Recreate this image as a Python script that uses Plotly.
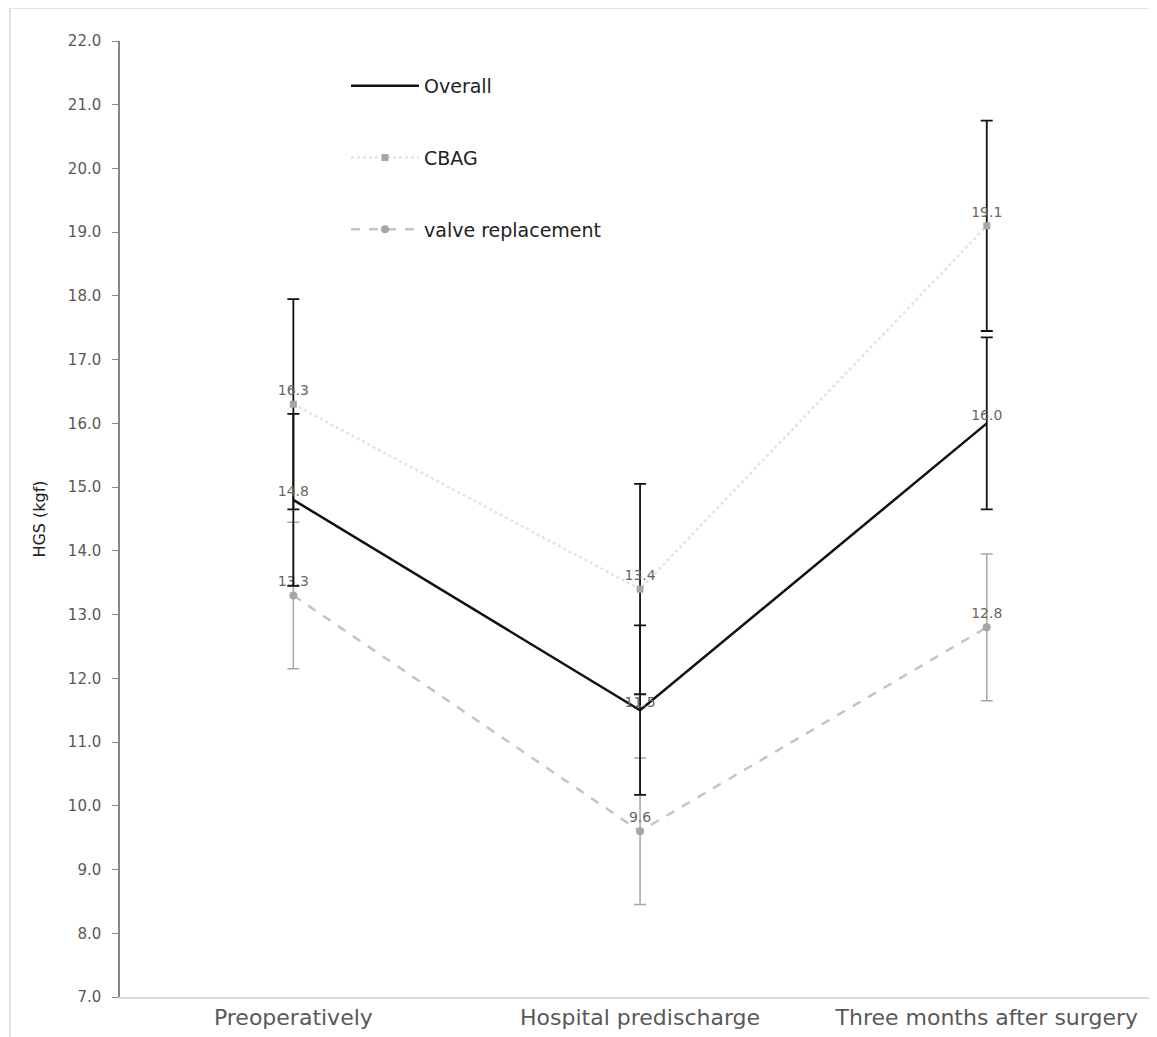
import plotly.graph_objects as go

categories = ["Preoperatively", "Hospital predischarge", "Three months after surgery"]
overall = [14.8, 11.5, 16.0]
overall_err = [1.35, 1.33, 1.35]
cbag = [16.3, 13.4, 19.1]
cbag_err = [1.65, 1.65, 1.65]
valve = [13.3, 9.6, 12.8]
valve_err = [1.15, 1.15, 1.15]
y_ticks = [7 + i for i in range(16)]

FONT = "DejaVu Sans"
OFF = 8  # page body offset
W, H = 1157 - OFF, 1037 - OFF
L, T = 120 - OFF, 41 - OFF
B = H - (997 - OFF)
PW, PH = W - L, H - T - B

def px_x(px):
    return (px - OFF - L) / PW

def px_y(py):
    return 1 - (py - OFF - T) / PH

fig = go.Figure()

fig.add_trace(go.Scatter(
    x=categories, y=valve, name="valve replacement", legendrank=3, legendgroup="c",
    mode="lines+markers+text", text=[f"{v:.1f}" for v in valve],
    textposition="top center", textfont=dict(size=14, color="#666666", family=FONT),
    line=dict(color="#c4c4c4", width=2.5, dash="dash"),
    marker=dict(symbol="circle", size=8, color="#a6a6a6"),
    error_y=dict(type="data", array=valve_err, color="#a6a6a6", thickness=1.5, width=6),
))
fig.add_trace(go.Scatter(
    x=categories, y=cbag, name="CBAG", legendrank=2, legendgroup="b",
    mode="lines+markers+text", text=[f"{v:.1f}" for v in cbag],
    textposition="top center", textfont=dict(size=14, color="#666666", family=FONT),
    line=dict(color="#e3e3e3", width=2.5, dash="dot"),
    marker=dict(symbol="square", size=7, color="#a6a6a6"),
    error_y=dict(type="data", array=cbag_err, color="#111111", thickness=1.8, width=6),
))
fig.add_trace(go.Scatter(
    x=categories, y=overall, name="Overall", legendrank=1, legendgroup="a",
    mode="lines+text", text=[f"{v:.1f}" for v in overall],
    textposition="top center", textfont=dict(size=14, color="#666666", family=FONT),
    line=dict(color="#111111", width=2.5),
    error_y=dict(type="data", array=overall_err, color="#111111", thickness=1.8, width=6),
))

fig.update_layout(
    width=W, height=H,
    margin=dict(l=L, r=0, t=T, b=B),
    paper_bgcolor="white", plot_bgcolor="white",
    font=dict(family=FONT, color="#595959"),
    showlegend=True,
    legend=dict(
        x=px_x(346), y=px_y(67), xanchor="left", yanchor="top",
        font=dict(size=19, color="#222222", family=FONT),
        tracegroupgap=44, traceorder="grouped", bgcolor="rgba(0,0,0,0)",
        itemwidth=68,
    ),
    xaxis=dict(
        type="category", range=[-0.5, 2.491], showline=True, linecolor="#d9d9d9",
        linewidth=1.5, ticks="", showgrid=False, zeroline=False,
        tickfont=dict(size=22, color="#595959", family=FONT),
    ),
    yaxis=dict(
        range=[7, 22], tickvals=y_ticks, tickformat=".1f", showline=True,
        linecolor="#868686", linewidth=1.5, ticks="outside", ticklen=6,
        tickcolor="#868686", showgrid=False, zeroline=False, ticklabelstandoff=8,
        tickfont=dict(size=15, color="#595959", family=FONT),
        title=dict(text="HGS (kgf)", font=dict(size=16, color="#222222", family=FONT), standoff=18),
    ),
)
# chart area border
fig.add_shape(type="rect", xref="paper", yref="paper",
              x0=px_x(10), x1=px_x(1170), y0=px_y(1045), y1=px_y(8),
              line=dict(color="#d9d9d9", width=1.5), layer="below")

fig.write_html("out.html")
